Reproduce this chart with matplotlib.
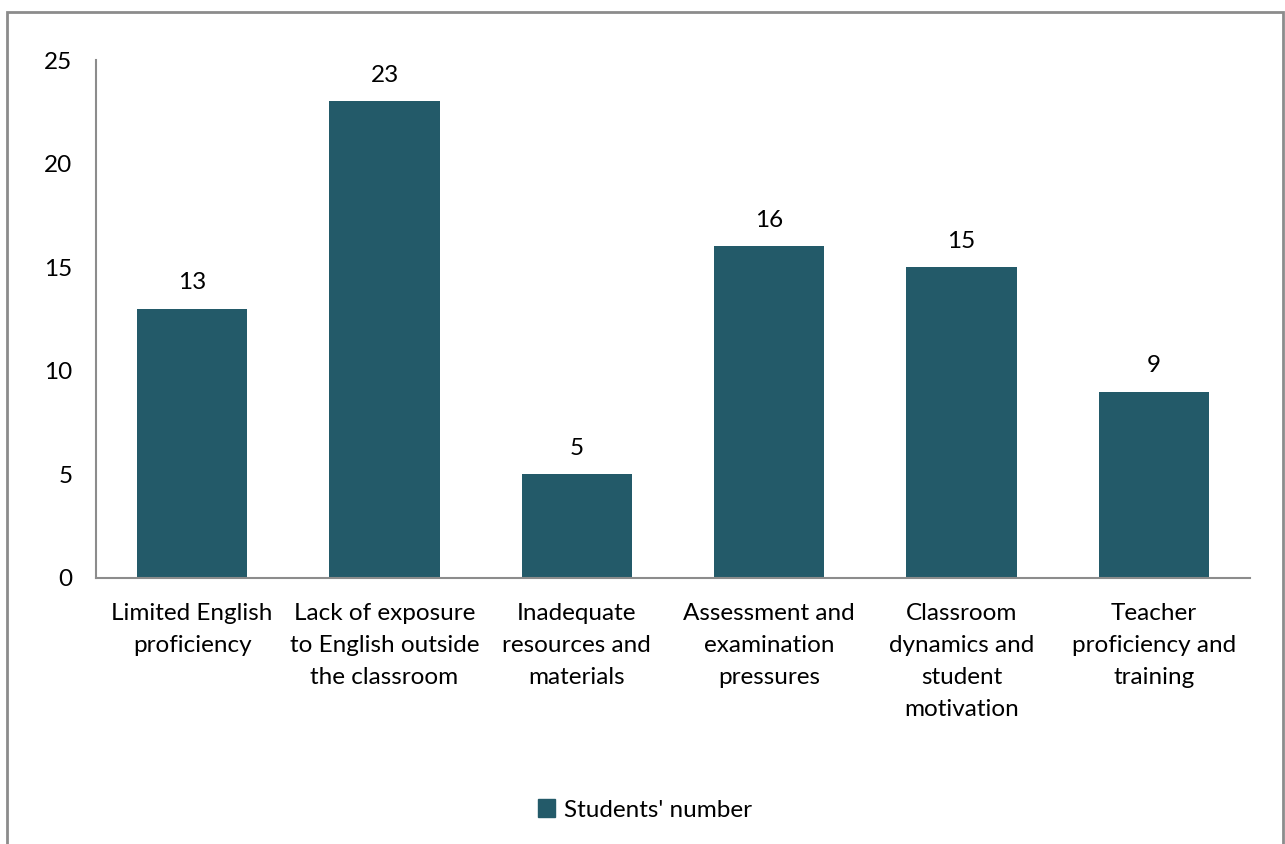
import matplotlib
matplotlib.use("Agg")
import matplotlib.pyplot as plt
from matplotlib.patches import Rectangle, Patch

categories = [
    "Limited English\nproficiency",
    "Lack of exposure\nto English outside\nthe classroom",
    "Inadequate\nresources and\nmaterials",
    "Assessment and\nexamination\npressures",
    "Classroom\ndynamics and\nstudent\nmotivation",
    "Teacher\nproficiency and\ntraining",
]
students = [13, 23, 5, 16, 15, 9]
yticks = [0, 5, 10, 15, 20, 25]
series_name = "Students' number"

BAR_COLOR = "#235A69"
AXIS_COLOR = "#8C8C8C"
FS = 17.5
W, H = 1285, 844

plt.rcParams["font.family"] = ["Lato", "DejaVu Sans"]

fig = plt.figure(figsize=(W / 100, H / 100), dpi=100)
fig.patch.set_facecolor("white")

# outer chart frame (bottom edge runs off the canvas)
fig.add_artist(Rectangle((7 / W, -0.05), (1283 - 7) / W, 1.05 - 12 / H,
                         transform=fig.transFigure, fill=False,
                         edgecolor=AXIS_COLOR, linewidth=2))

ax = fig.add_axes([96 / W, 1 - 578 / H, (1250 - 96) / W, (578 - 60) / H])
x = list(range(len(categories)))
bars = ax.bar(x, students, width=0.572, color=BAR_COLOR, label=series_name)
ax.set_xlim(-0.5, len(categories) - 0.5)
ax.set_ylim(0, 25)
ax.set_yticks(yticks)
ax.set_xticks(x)
ax.set_xticklabels(categories, fontsize=FS)
for lab in ax.get_xticklabels():
    lab.set_linespacing(1.65)
ax.tick_params(axis="y", length=0, pad=17, labelsize=FS)
ax.tick_params(axis="x", length=0, pad=18)

for s in ("top", "right"):
    ax.spines[s].set_visible(False)
for s in ("left", "bottom"):
    ax.spines[s].set_color(AXIS_COLOR)
    ax.spines[s].set_linewidth(1.5)

for rect, v in zip(bars, students):
    ax.annotate(str(v), (rect.get_x() + rect.get_width() / 2, v),
                xytext=(0, 11), textcoords="offset points",
                ha="center", va="bottom", fontsize=FS)

fig.legend(handles=[Patch(color=BAR_COLOR, label=series_name)],
           loc="center", bbox_to_anchor=(645 / W, 1 - 810 / H),
           frameon=False, fontsize=FS, handlelength=0.7, handleheight=0.7,
           handletextpad=0.35)

fig.savefig("out.png", dpi=100, facecolor="white")
